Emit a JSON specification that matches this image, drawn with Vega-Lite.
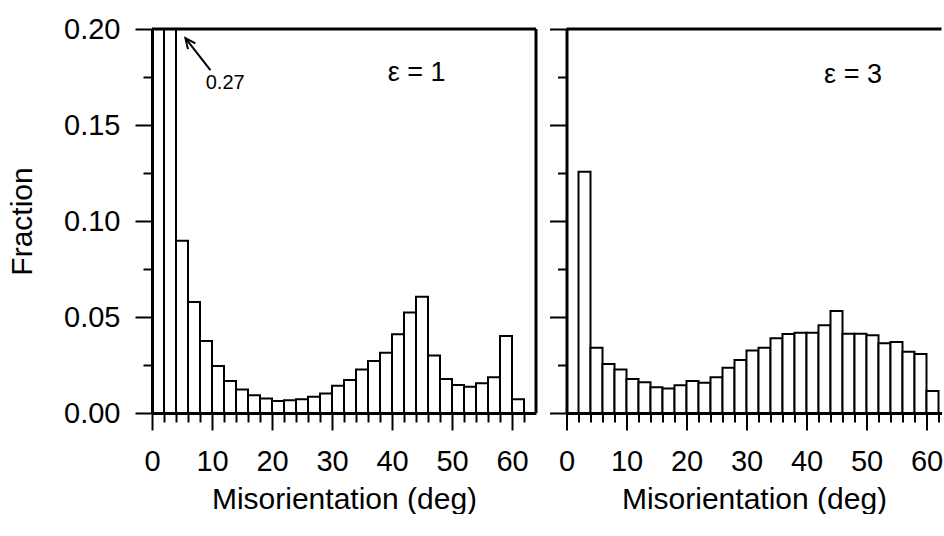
{
  "$schema": "https://vega.github.io/schema/vega-lite/v6.json",
  "background": "white",
  "padding": {"left": 7, "top": 15, "right": 0, "bottom": 0},
  "spacing": 10.5,
  "config": {
    "view": {"stroke": null},
    "font": "Liberation Sans",
    "axis": {
      "domainColor": "black",
      "domainWidth": 3,
      "tickColor": "black",
      "tickWidth": 2,
      "labelColor": "black",
      "labelFont": "Liberation Sans",
      "labelFontSize": 29,
      "titleFont": "Liberation Sans",
      "titleFontSize": 30,
      "titleFontWeight": "normal",
      "titleColor": "black",
      "grid": false
    }
  },
  "datasets": {
    "eps1": [
      {"start": 0, "end": 2, "fraction": 0},
      {"start": 2, "end": 4, "fraction": 0.27},
      {"start": 4, "end": 6, "fraction": 0.0897},
      {"start": 6, "end": 8, "fraction": 0.0578},
      {"start": 8, "end": 10, "fraction": 0.0375},
      {"start": 10, "end": 12, "fraction": 0.0245},
      {"start": 12, "end": 14, "fraction": 0.0167},
      {"start": 14, "end": 16, "fraction": 0.0123},
      {"start": 16, "end": 18, "fraction": 0.0092},
      {"start": 18, "end": 20, "fraction": 0.0076},
      {"start": 20, "end": 22, "fraction": 0.0062},
      {"start": 22, "end": 24, "fraction": 0.0066},
      {"start": 24, "end": 26, "fraction": 0.0071},
      {"start": 26, "end": 28, "fraction": 0.0085},
      {"start": 28, "end": 30, "fraction": 0.0102},
      {"start": 30, "end": 32, "fraction": 0.0142},
      {"start": 32, "end": 34, "fraction": 0.0172},
      {"start": 34, "end": 36, "fraction": 0.0227},
      {"start": 36, "end": 38, "fraction": 0.0271},
      {"start": 38, "end": 40, "fraction": 0.0314},
      {"start": 40, "end": 42, "fraction": 0.041},
      {"start": 42, "end": 44, "fraction": 0.0523},
      {"start": 44, "end": 46, "fraction": 0.0606},
      {"start": 46, "end": 48, "fraction": 0.0299},
      {"start": 48, "end": 50, "fraction": 0.0177},
      {"start": 50, "end": 52, "fraction": 0.0146},
      {"start": 52, "end": 54, "fraction": 0.0137},
      {"start": 54, "end": 56, "fraction": 0.0155},
      {"start": 56, "end": 58, "fraction": 0.0186},
      {"start": 58, "end": 60, "fraction": 0.0401},
      {"start": 60, "end": 62, "fraction": 0.0071}
    ],
    "eps3": [
      {"start": 0, "end": 2, "fraction": 0},
      {"start": 2, "end": 4, "fraction": 0.1257},
      {"start": 4, "end": 6, "fraction": 0.034},
      {"start": 6, "end": 8, "fraction": 0.0255},
      {"start": 8, "end": 10, "fraction": 0.0227},
      {"start": 10, "end": 12, "fraction": 0.0177},
      {"start": 12, "end": 14, "fraction": 0.016},
      {"start": 14, "end": 16, "fraction": 0.0134},
      {"start": 16, "end": 18, "fraction": 0.0127},
      {"start": 18, "end": 20, "fraction": 0.0144},
      {"start": 20, "end": 22, "fraction": 0.0167},
      {"start": 22, "end": 24, "fraction": 0.0158},
      {"start": 24, "end": 26, "fraction": 0.0186},
      {"start": 26, "end": 28, "fraction": 0.0236},
      {"start": 28, "end": 30, "fraction": 0.0276},
      {"start": 30, "end": 32, "fraction": 0.0326},
      {"start": 32, "end": 34, "fraction": 0.034},
      {"start": 34, "end": 36, "fraction": 0.0389},
      {"start": 36, "end": 38, "fraction": 0.0411},
      {"start": 38, "end": 40, "fraction": 0.0418},
      {"start": 40, "end": 42, "fraction": 0.0418},
      {"start": 42, "end": 44, "fraction": 0.0457},
      {"start": 44, "end": 46, "fraction": 0.0531},
      {"start": 46, "end": 48, "fraction": 0.0413},
      {"start": 48, "end": 50, "fraction": 0.0413},
      {"start": 50, "end": 52, "fraction": 0.0405},
      {"start": 52, "end": 54, "fraction": 0.0363},
      {"start": 54, "end": 56, "fraction": 0.037},
      {"start": 56, "end": 58, "fraction": 0.0319},
      {"start": 58, "end": 60, "fraction": 0.0307},
      {"start": 60, "end": 62, "fraction": 0.0115}
    ],
    "frame1": [
      {"top": 0.2, "right": 64}
    ],
    "frame3": [
      {"top": 0.2}
    ],
    "labels1": [
      {"text": "ε = 1", "x": 44.1, "y": 0.177, "size": 27},
      {"text": "0.27", "x": 12.2, "y": 0.1717, "size": 20}
    ],
    "labels3": [
      {"text": "ε = 3", "x": 47.75, "y": 0.176, "size": 27}
    ],
    "arrow": [
      {"x": 9.73, "y": 0.1786, "x2": 5.57, "y2": 0.1952}
    ]
  },
  "hconcat": [
    {
      "width": 384,
      "height": 384,
      "layer": [
        {
          "data": {"name": "eps1"},
          "mark": {"type": "bar", "fill": "white", "stroke": "black", "strokeWidth": 2},
          "encoding": {
            "x": {
              "field": "start", "type": "quantitative",
              "scale": {"domain": [0, 64], "nice": false, "zero": false},
              "axis": {
                "title": "Misorientation (deg)",
                "values": [0,2,4,6,8,10,12,14,16,18,20,22,24,26,28,30,32,34,36,38,40,42,44,46,48,50,52,54,56,58,60,62],
                "tickCount": 100,
                "labelExpr": "datum.value % 10 === 0 ? format(datum.value, 'd') : ''",
                "labelPadding": 17,
                "labelFlush": false,
                "labelOverlap": false,
                "titlePadding": 8,
                "tickSize": {"condition": {"test": "datum.value % 10 === 0", "value": 17}, "value": 9}
              }
            },
            "x2": {"field": "end"},
            "y": {
              "field": "fraction", "type": "quantitative",
              "scale": {"domain": [0, 0.2], "nice": false, "clamp": true},
              "axis": {
                "title": "Fraction",
                "values": [0, 0.025, 0.05, 0.075, 0.1, 0.125, 0.15, 0.175, 0.2],
                "tickCount": 100,
                "labelExpr": "abs(datum.value * 20 - round(datum.value * 20)) < 0.001 ? format(datum.value, '.2f') : ''",
                "labelPadding": 15,
                "labelFlush": false,
                "labelOverlap": false,
                "titlePadding": 26,
                "tickSize": {"condition": {"test": "abs(datum.value * 20 - round(datum.value * 20)) < 0.001", "value": 17}, "value": 9}
              }
            },
            "y2": {"datum": 0}
          }
        },
        {
          "data": {"name": "frame1"},
          "mark": {"type": "rule", "stroke": "black", "strokeWidth": 3},
          "encoding": {"y": {"field": "top", "type": "quantitative"}}
        },
        {
          "data": {"name": "frame1"},
          "mark": {"type": "rule", "stroke": "black", "strokeWidth": 3},
          "encoding": {"x": {"field": "right", "type": "quantitative"}}
        },
        {
          "data": {"name": "labels1"},
          "mark": {"type": "text", "font": "Liberation Sans", "color": "black", "align": "center", "baseline": "middle"},
          "encoding": {
            "x": {"field": "x", "type": "quantitative"},
            "y": {"field": "y", "type": "quantitative"},
            "text": {"field": "text"},
            "size": {"field": "size", "type": "quantitative", "scale": null}
          }
        },
        {
          "data": {"name": "arrow"},
          "mark": {"type": "rule", "stroke": "black", "strokeWidth": 2},
          "encoding": {
            "x": {"field": "x", "type": "quantitative"},
            "y": {"field": "y", "type": "quantitative"},
            "x2": {"field": "x2"},
            "y2": {"field": "y2"}
          }
        },
        {
          "data": {"name": "arrow"},
          "mark": {"type": "point", "shape": "M -0.42,0.91 L 0,0 L 0.42,0.91", "filled": false, "stroke": "black", "strokeWidth": 2, "size": 500, "angle": -38, "opacity": 1},
          "encoding": {
            "x": {"field": "x2", "type": "quantitative"},
            "y": {"field": "y2", "type": "quantitative"}
          }
        }
      ]
    },
    {
      "width": 375,
      "height": 384,
      "layer": [
        {
          "data": {"name": "eps3"},
          "mark": {"type": "bar", "fill": "white", "stroke": "black", "strokeWidth": 2},
          "encoding": {
            "x": {
              "field": "start", "type": "quantitative",
              "scale": {"domain": [0, 62.5], "nice": false, "zero": false},
              "axis": {
                "title": "Misorientation (deg)",
                "values": [0,2,4,6,8,10,12,14,16,18,20,22,24,26,28,30,32,34,36,38,40,42,44,46,48,50,52,54,56,58,60,62],
                "tickCount": 100,
                "labelExpr": "datum.value % 10 === 0 ? format(datum.value, 'd') : ''",
                "labelPadding": 17,
                "labelFlush": false,
                "labelOverlap": false,
                "titlePadding": 8,
                "tickSize": {"condition": {"test": "datum.value % 10 === 0", "value": 17}, "value": 9}
              }
            },
            "x2": {"field": "end"},
            "y": {
              "field": "fraction", "type": "quantitative",
              "scale": {"domain": [0, 0.2], "nice": false, "clamp": true},
              "axis": {
                "title": null,
                "labels": false,
                "values": [0, 0.025, 0.05, 0.075, 0.1, 0.125, 0.15, 0.175, 0.2],
                "tickCount": 100,
                "tickSize": {"condition": {"test": "abs(datum.value * 20 - round(datum.value * 20)) < 0.001", "value": 17}, "value": 9}
              }
            },
            "y2": {"datum": 0}
          }
        },
        {
          "data": {"name": "frame3"},
          "mark": {"type": "rule", "stroke": "black", "strokeWidth": 3},
          "encoding": {"y": {"field": "top", "type": "quantitative"}}
        },
        {
          "data": {"name": "labels3"},
          "mark": {"type": "text", "font": "Liberation Sans", "color": "black", "align": "center", "baseline": "middle"},
          "encoding": {
            "x": {"field": "x", "type": "quantitative"},
            "y": {"field": "y", "type": "quantitative"},
            "text": {"field": "text"},
            "size": {"field": "size", "type": "quantitative", "scale": null}
          }
        }
      ]
    }
  ]
}
